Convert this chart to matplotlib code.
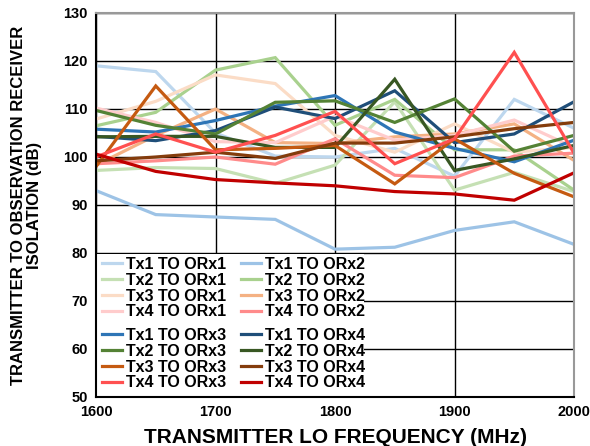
import matplotlib
matplotlib.use("Agg")
import matplotlib.pyplot as plt
from matplotlib.patches import Rectangle

plt.rcParams['font.family'] = ['Liberation Sans', 'DejaVu Sans']
plt.rcParams['font.weight'] = 'bold'

freq = [1600, 1650, 1700, 1750, 1800, 1850, 1900, 1950, 2000]

tx1_orx1 = [119, 117.8, 105, 100.2, 100, 101.8, 96, 112, 106]
tx1_orx2 = [93, 88, 87.5, 87, 80.8, 81.2, 84.7, 86.5, 81.8]
tx2_orx1 = [97.2, 97.8, 97.6, 94.5, 98.3, 111.5, 93.1, 96.8, 92.8]
tx2_orx2 = [106.5, 109.3, 118.1, 120.7, 106.6, 112, 101.5, 101.5, 93.1]
tx3_orx1 = [107.9, 111.6, 117.1, 115.3, 104.5, 101, 106.9, 101, 102]
tx3_orx2 = [98.3, 104.5, 110, 103, 102.8, 104.2, 104.8, 106.9, 99.3]
tx4_orx1 = [110.2, 107.2, 103.2, 103, 108.5, 103.5, 104.5, 107.7, 102]
tx4_orx2 = [98.6, 99.2, 100, 98.5, 103.8, 96.2, 95.7, 100.2, 100.8]
tx1_orx3 = [105.8, 105.2, 107.6, 110.6, 112.8, 105.2, 101.8, 99, 103.5]
tx1_orx4 = [104.3, 103.4, 105.5, 110.4, 108, 113.8, 103, 104.8, 111.5]
tx2_orx3 = [109.7, 106.6, 104.8, 111.4, 111.7, 107.2, 112.1, 101.2, 104.5]
tx2_orx4 = [104.2, 104.3, 104.3, 102, 102, 116.2, 97.2, 99.6, 102.4]
tx3_orx3 = [98, 114.8, 101.5, 101.8, 102.4, 94.4, 103.8, 96.6, 91.7]
tx3_orx4 = [99.2, 100, 101, 99.7, 102.9, 102.9, 104.2, 105.9, 107.2]
tx4_orx3 = [100, 104.8, 101, 104.5, 109.5, 98.6, 103.8, 121.8, 100.8]
tx4_orx4 = [100.6, 97, 95.3, 94.6, 94, 92.8, 92.3, 91, 96.7]

# (label, values, colour) in drawing order
series = [
    ("Tx1 TO ORx1", tx1_orx1, "#BDD7EE"),
    ("Tx1 TO ORx2", tx1_orx2, "#9DC3E6"),
    ("Tx2 TO ORx1", tx2_orx1, "#C5E0B4"),
    ("Tx2 TO ORx2", tx2_orx2, "#A9D18E"),
    ("Tx3 TO ORx1", tx3_orx1, "#FBDCC6"),
    ("Tx3 TO ORx2", tx3_orx2, "#F4B183"),
    ("Tx4 TO ORx1", tx4_orx1, "#FFCCCC"),
    ("Tx4 TO ORx2", tx4_orx2, "#FF8B8B"),
    ("Tx1 TO ORx3", tx1_orx3, "#2E75B6"),
    ("Tx1 TO ORx4", tx1_orx4, "#1F4E79"),
    ("Tx2 TO ORx3", tx2_orx3, "#548235"),
    ("Tx2 TO ORx4", tx2_orx4, "#385723"),
    ("Tx3 TO ORx3", tx3_orx3, "#C55A11"),
    ("Tx3 TO ORx4", tx3_orx4, "#843C0C"),
    ("Tx4 TO ORx3", tx4_orx3, "#FF5050"),
    ("Tx4 TO ORx4", tx4_orx4, "#C00000"),
]

fig = plt.figure(figsize=(5.9, 4.46), dpi=100)
ax = fig.add_axes([96/590, 1-397/446, 478/590, 384/446])

lines = {}
for lab, vals, col in series:
    ln, = ax.plot(freq, vals, color=col, lw=2.3, label=lab, solid_joinstyle='miter')
    lines[lab] = ln

ax.set_xlim(1600, 2000)
ax.set_ylim(50, 130)
ax.set_xticks(range(1600, 2001, 100))
ax.set_yticks(range(50, 131, 10))
ax.grid(True, color='black', lw=1.0)
ax.set_axisbelow(True)
ax.tick_params(length=0, labelsize=10.5, pad=6)
for s in ax.spines.values():
    s.set_linewidth(1.5)
    s.set_color('black')
ax.spines['right'].set_color('#999999')
ax.spines['top'].set_color('#999999')

ax.set_xlabel("TRANSMITTER LO FREQUENCY (MHz)", fontsize=15, fontweight='bold')
ax.xaxis.set_label_coords(0.5, -0.08)
ax.set_ylabel("TRANSMITTER TO OBSERVATION RECEIVER\nISOLATION (dB)", fontsize=12,
              fontweight='bold', linespacing=1.15)
ax.yaxis.set_label_coords(-0.112, 0.5)

# white box behind the legend
ax.add_patch(Rectangle((0, 0), (364-96)/478, (397-254)/384, transform=ax.transAxes,
                       facecolor='white', edgecolor='none', zorder=2.5))

def group(labels):
    return [lines[l] for l in labels]

top = ["Tx1 TO ORx1", "Tx2 TO ORx1", "Tx3 TO ORx1", "Tx4 TO ORx1",
       "Tx1 TO ORx2", "Tx2 TO ORx2", "Tx3 TO ORx2", "Tx4 TO ORx2"]
bottom = ["Tx1 TO ORx3", "Tx2 TO ORx3", "Tx3 TO ORx3", "Tx4 TO ORx3",
          "Tx1 TO ORx4", "Tx2 TO ORx4", "Tx3 TO ORx4", "Tx4 TO ORx4"]

opts = dict(ncol=2, frameon=False, handlelength=1.25, handletextpad=0.25,
            columnspacing=0.95, labelspacing=0.05, borderpad=0, borderaxespad=0,
            prop={'weight': 'bold', 'size': 11.5})
leg1 = ax.legend(group(top), top, loc='upper left',
                 bbox_to_anchor=(6/478, (397-257)/384), **opts)
ax.add_artist(leg1)
leg2 = ax.legend(group(bottom), bottom, loc='upper left',
                 bbox_to_anchor=(6/478, (397-328)/384), **opts)
for lg in (leg1, leg2):
    lg.set_zorder(3)

fig.savefig("out.png", dpi=100)
